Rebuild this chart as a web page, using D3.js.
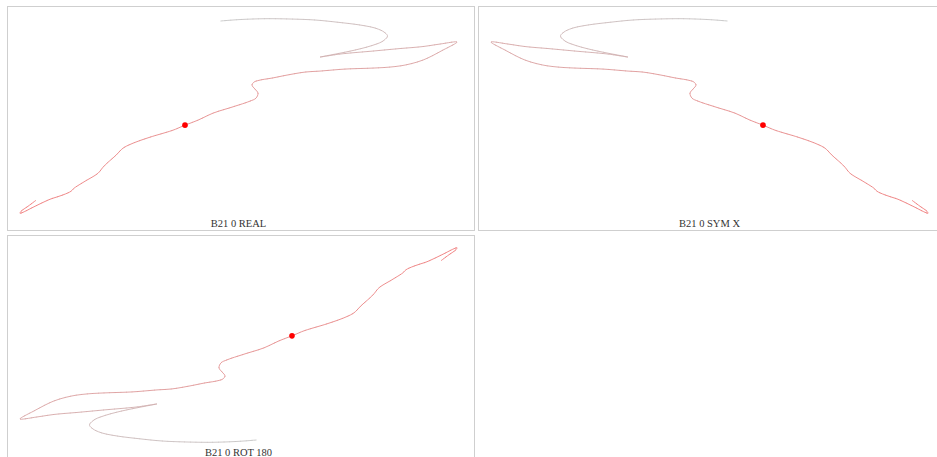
<!DOCTYPE html>
<html>
<head>
<meta charset="utf-8">
<script src="https://cdn.jsdelivr.net/npm/d3@7"></script>
<style>
  html, body { margin: 0; padding: 0; background: #fff; }
  svg { display: block; }
</style>
</head>
<body>
<svg id="chart" width="937" height="457"></svg>
<script>
// ---- data (trajectory, y up) ----
const trackX = [16, 8, 1, 0, 3, 15, 30, 42, 51, 54, 65, 78, 83, 87, 96, 103, 113, 130, 153, 165,
  178, 193, 212, 230, 236, 238, 235, 232, 234, 240, 252, 267, 285, 300, 325, 353, 370, 385, 403, 423,
  437, 420, 403, 380, 353, 320, 300, 313, 335, 352, 363, 367.5, 364, 355, 340, 320, 295, 270, 246,
  225, 213, 200.5];
const trackY = [13, 7, 2, 0, 1, 7, 14, 18, 22, 25, 32, 40, 46, 50, 58, 65, 70, 76, 83, 88,
  93, 100, 106, 112, 115, 120, 124, 128, 131, 133, 135, 138, 141, 142, 144, 145, 146, 148, 153, 163,
  171, 169, 166.5, 164.5, 162, 159, 156, 158.5, 163, 167.5, 172, 177, 181, 185, 188, 190.5, 193, 194, 194.3,
  193.7, 193, 192];
const markerIndex = 19;
const panelLabels = ["B21 0 REAL", "B21 0 SYM X", "B21 0 ROT 180"];
const panelFlipX = [false, true, true];
const panelFlipY = [false, false, true];

// ---- layout ----
const panelW = 467, panelH = 224;
const panelPos = [[7.5, 6.5], [478.5, 6.5], [7.5, 235.5]];
const plotLeft = 12.5, plotRight = 449.5, plotTop = 12.2, plotBottom = 206.8;
const startColor = "#f07a7a", endColor = "#c6c6c6";

const pts = trackX.map((x, i) => [x, trackY[i]]);
const svg = d3.select("#chart");

panelLabels.forEach((label, p) => {
  const g = svg.append("g").attr("transform", `translate(${panelPos[p][0]},${panelPos[p][1]})`);
  g.append("rect")
    .attr("width", panelW).attr("height", panelH)
    .attr("fill", "none").attr("stroke", "#cfcfcf").attr("stroke-width", 1);

  const x = d3.scaleLinear().domain(d3.extent(trackX))
    .range(panelFlipX[p] ? [plotRight, plotLeft] : [plotLeft, plotRight]);
  const y = d3.scaleLinear().domain(d3.extent(trackY))
    .range(panelFlipY[p] ? [plotTop, plotBottom] : [plotBottom, plotTop]);

  const line = d3.line().x(d => x(d[0])).y(d => y(d[1])).curve(d3.curveCatmullRom.alpha(0.5));
  const dStr = line(pts);
  const probe = g.append("path").attr("d", dStr).attr("fill", "none").attr("stroke", "none");
  const total = probe.node().getTotalLength();
  probe.remove();
  const N = 160;
  const color = d3.interpolateRgb(startColor, endColor);
  for (let k = 0; k < N; k++) {
    const s = total * k / N;
    const len = total / N + 0.6;
    g.append("path")
      .attr("d", dStr)
      .attr("fill", "none")
      .attr("stroke", color(k / (N - 1)))
      .attr("stroke-width", 0.9)
      .attr("stroke-dasharray", `0,${s},${len},${total * 2}`);
  }

  g.append("circle")
    .attr("cx", x(trackX[markerIndex])).attr("cy", y(trackY[markerIndex]))
    .attr("r", 2.8).attr("fill", "red");

  g.append("text")
    .attr("x", (plotLeft + plotRight) / 2).attr("y", 220.5)
    .attr("text-anchor", "middle")
    .attr("font-family", "'Liberation Serif', 'DejaVu Serif', serif")
    .attr("font-size", 10.5)
    .attr("fill", "#333")
    .text(label);
});
</script>
</body>
</html>
